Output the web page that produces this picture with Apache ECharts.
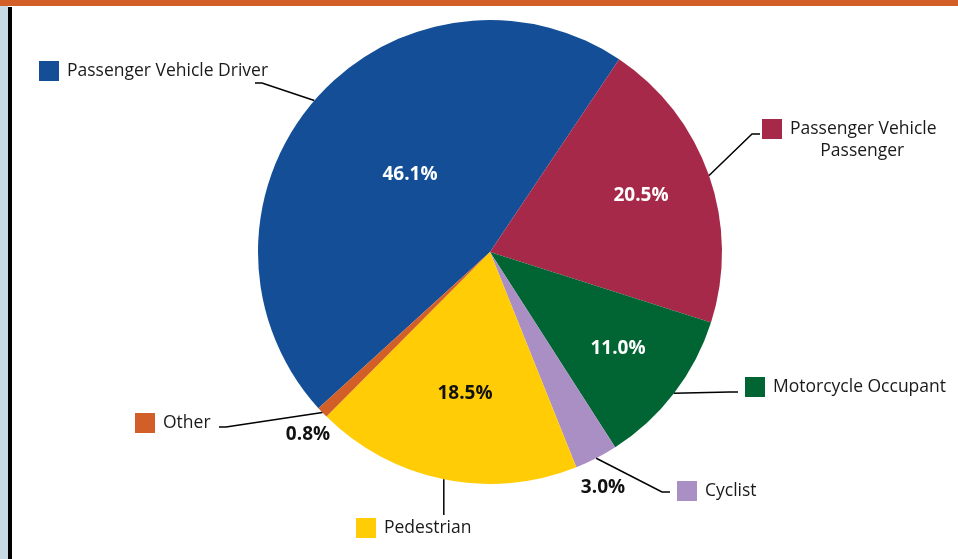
<!doctype html>
<html>
<head>
<meta charset="utf-8">
<title>Pie</title>
<style>
html,body{margin:0;padding:0;background:#fff;}
#main{width:958px;height:559px;}
</style>
</head>
<body>
<div id="main"></div>
<script src="https://cdn.jsdelivr.net/npm/echarts@6/dist/echarts.min.js"></script>
<script>
// data
var names = ['Passenger Vehicle Driver', 'Passenger Vehicle Passenger', 'Motorcycle Occupant', 'Cyclist', 'Pedestrian', 'Other'];
var values = [46.1, 20.5, 11.0, 3.0, 18.5, 0.8];
var colors = ['#134e96', '#a6294a', '#006533', '#a98fc4', '#ffcc05', '#d15f27'];

// label placement (annotations only)
var pctPos = [[410, 175], [641, 196], [618, 349], [603, 488], [465, 394], [308, 435]];
var pctColor = ['#fff', '#fff', '#fff', '#111', '#111', '#111'];
var pctOutside = [false, false, false, true, false, true];
var namePos = [[39, 71, 'middle'], [762, 118, 'top'], [745, 387, 'middle'], [677, 491, 'middle'], [356, 528, 'middle'], [135, 423, 'middle']];
var lineEnds = [
	[[262, 83], [255, 83]],
	[[752, 134], [760, 134]],
	[[730, 392], [738, 392]],
	[[662, 492], [670, 492]],
	[null, 515],
	[[226, 427], [219, 427]]
];

var chart = echarts.init(document.getElementById('main'));

var pieData = names.map(function(n, i) {
	return {
		name: n,
		value: values[i],
		itemStyle: { color: colors[i] },
		label: { position: pctOutside[i] ? 'outside' : 'inside', color: pctColor[i] },
		labelLine: { show: false }
	};
});

var rich = {
	n: { fontFamily: 'Open Sans', fontSize: 17.5, color: '#1a1a1a', padding: [0, 0, 0, 8], lineHeight: 22 },
	n2: { fontFamily: 'Open Sans', fontSize: 17.5, color: '#1a1a1a', padding: [0, 0, 0, 26], lineHeight: 22, align: 'center' }
};
colors.forEach(function(c, i) {
	rich['sq' + i] = { width: 20, height: 20, backgroundColor: c };
});

var option = {
	backgroundColor: '#fff',
	animation: false,
	graphic: [
		{ type: 'rect', shape: { x: 0, y: 0, width: 958, height: 6 }, style: { fill: '#d15f27' } },
		{ type: 'rect', shape: { x: 0, y: 6, width: 8, height: 553 }, style: { fill: '#c8dae3' } },
		{ type: 'rect', shape: { x: 8, y: 7, width: 4, height: 552 }, style: { fill: '#000' } }
	],
	series: [
		{
			type: 'pie',
			center: [490, 252],
			radius: 232,
			startAngle: 222.3,
			clockwise: true,
			avoidLabelOverlap: false,
			silent: true,
			data: pieData,
			label: {
				show: true,
				fontFamily: 'Open Sans',
				fontSize: 19,
				fontWeight: 'bold',
				formatter: function(p) {
					return p.value.toFixed(1) + '%';
				}
			},
			labelLayout: function(p) {
				var i = p.dataIndex;
				return { x: pctPos[i][0], y: pctPos[i][1], align: 'center', verticalAlign: 'middle' };
			},
			labelLine: { show: false }
		},
		{
			type: 'pie',
			center: [490, 252],
			radius: 232,
			startAngle: 222.3,
			clockwise: true,
			avoidLabelOverlap: false,
			silent: true,
			z: 3,
			data: names.map(function(n, i) {
				return { name: n, value: values[i], itemStyle: { color: 'rgba(0,0,0,0)' } };
			}),
			label: {
				show: true,
				position: 'outside',
				formatter: function(p) {
					var i = p.dataIndex;
					if (i === 1) {
						return '{sq1|}{n|Passenger Vehicle}\n{n2|Passenger}';
					}
					return '{sq' + i + '|}{n|' + p.name + '}';
				},
				rich: rich
			},
			labelLine: {
				show: true,
				lineStyle: { color: '#000', width: 1.5 }
			},
			labelLayout: function(p) {
				var i = p.dataIndex;
				var a = p.labelLinePoints ? p.labelLinePoints[0] : null;
				var res = { x: namePos[i][0], y: namePos[i][1], align: 'left', verticalAlign: namePos[i][2] };
				if (a) {
					var e = lineEnds[i];
					if (e[0] === null) {
						res.labelLinePoints = [a, [a[0], e[1] - 3], [a[0], e[1]]];
					} else {
						res.labelLinePoints = [a, e[0], e[1]];
					}
				}
				return res;
			}
		}
	]
};

chart.setOption(option);
</script>
</body>
</html>
